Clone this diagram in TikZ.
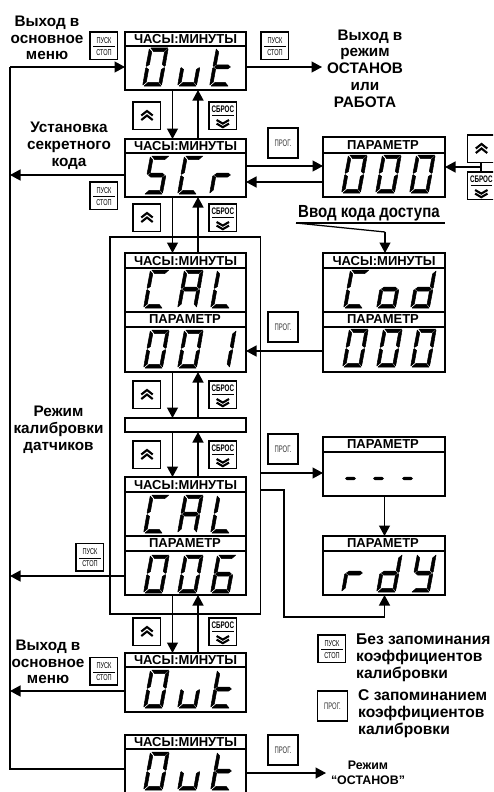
\documentclass[tikz,border=0pt]{standalone}
\usepackage{fontspec}
\usepackage{graphicx}
\setmainfont{Liberation Sans}
\usetikzlibrary{arrows.meta}
% seven-segment pieces (u across, v up; y axis of the picture points down)
\newcommand\digsega{\filldraw (2,-38)--(19,-38)--(15.5,-34.4)--(5.5,-34.4)--cycle;}
\newcommand\digsegd{\filldraw (2,0)--(19,0)--(15.5,-3.6)--(5.5,-3.6)--cycle;}
\newcommand\digsegf{\filldraw (0.6,-37)--(3.6,-34)--(3.6,-21.5)--(1,-19.6)--(0.4,-20.5)--cycle;}
\newcommand\digsege{\filldraw (0.6,-1)--(3.6,-4)--(3.6,-16.5)--(1,-18.4)--(0.4,-17.5)--cycle;}
\newcommand\digsegb{\filldraw (19.4,-37)--(16.4,-34)--(16.4,-21.5)--(19,-19.6)--(19.6,-20.5)--cycle;}
\newcommand\digsegc{\filldraw (19.4,-1)--(16.4,-4)--(16.4,-16.5)--(19,-18.4)--(19.6,-17.5)--cycle;}
\newcommand\digsegg{\filldraw (2,-19)--(4.5,-21)--(15.5,-21)--(18,-19)--(15.5,-17)--(4.5,-17)--cycle;}
\newcommand\dig[3]{\begin{scope}[shift={(#1,#2)},xslant=0.18,line width=.5pt,line join=round]\foreach \s in {#3}{\csname digseg\s\endcsname}\end{scope}}
\newcommand\dash[2]{\fill (#1,#2)--(#1+2,#2-1.7)--(#1+9,#2-1.7)--(#1+11,#2)--(#1+9,#2+1.7)--(#1+2,#2+1.7)--cycle;}
% display frames
\newcommand\dispframe[5]{\node[dispbox,minimum width={(#3)*1pt},minimum height={(#5-#4)*1pt}] (#1) at (#2,#4) {};}
\newcommand\ttlclock[3]{\node[ttlclk] (#1t) at (#2+60.5,#3-7) {ЧАСЫ:МИНУТЫ};\draw[divider] (#2,#3)--(#2+121,#3);}
\newcommand\ttlparam[3]{\node[ttlpar] (#1p) at (#2+60,#3-7.5) {ПАРАМЕТР};\draw[divider] (#2,#3)--(#2+121,#3);}
% buttons
\newcommand\chev[4]{\draw[chevline] (#1-#4,#2+#3*3)--(#1,#2-#3*1.5)--(#1+#4,#2+#3*3);\draw[chevline] (#1-#4,#2+#3*7.5)--(#1,#2+#3*3)--(#1+#4,#2+#3*7.5);}
\newcommand\btnup[3]{\node[btn] (#1) at (#2,#3) {};\chev{#2+14}{#3+10.5}{1}{5.7}}
\newcommand\btnsb[3]{\node[btn] (#1) at (#2,#3) {};
 \node[lblsb] (#1s) at (#2+13.8,#3+7.5) {\scalebox{.66}[1]{СБРОС}};
 \draw[line width=.9pt] (#2+3,#3+13)--(#2+24.5,#3+13);
 \chev{#2+13.8}{#3+24}{-.8}{6.2}}
\newcommand\btnps[3]{\node[btn] (#1) at (#2,#3) {};
 \node[lblps] (#1a) at (#2+14,#3+8.5) {\scalebox{.66}[1]{ПУСК}};
 \draw[line width=.9pt] (#2+3,#3+14.5)--(#2+25,#3+14.5);
 \node[lblps] (#1b) at (#2+14,#3+20.5) {\scalebox{.66}[1]{СТОП}};}
\newcommand\btnpr[3]{\node[btn,minimum height=30pt,minimum width=30pt] (#1) at (#2,#3) {};
 \node[lblpr] (#1a) at (#2+15,#3+15) {\scalebox{.62}[1]{ПРОГ.}};}
\tikzset{
 dispbox/.style={draw,line width=1.9pt,anchor=north west,inner sep=0pt,outer sep=0pt},
 divider/.style={line width=1.5pt},
 ttlclk/.style={inner sep=0pt,font=\bfseries\fontsize{13}{13}\selectfont},
 ttlpar/.style={inner sep=0pt,font=\bfseries\fontsize{13}{13}\selectfont},
 btn/.style={draw,line width=1.6pt,anchor=north west,minimum width=27.5pt,minimum height=27.5pt,inner sep=0pt,outer sep=0pt},
 chevline/.style={line width=2.1pt},
 lblsb/.style={inner sep=0pt,font=\bfseries\fontsize{9.5}{9}\selectfont},
 lblps/.style={inner sep=0pt,font=\fontsize{8.5}{9}\selectfont},
 lblpr/.style={inner sep=0pt,text=black!80,font=\fontsize{9.5}{10}\selectfont},
 wire/.style={line width=1.25pt},
 arr/.style={line width=1.25pt,-{Triangle[length=10.5pt,width=11pt]}},
 big/.style={inner sep=0pt,align=center,font=\bfseries\fontsize{15.3}{16.8}\selectfont},
 legend/.style={inner sep=0pt,align=left,anchor=west,font=\bfseries\fontsize{15.6}{17}\selectfont},
}
\begin{document}
\begin{tikzpicture}[x=1pt,y=-1pt]
\useasboundingbox (0,0) rectangle (493,792);
\clip (0,0) rectangle (493,792);
\fill[white] (0,0) rectangle (493,792);
% helper coordinates
\coordinate (dn) at (172.5,0);
\coordinate (up) at (198,0);
\coordinate (bus) at (10,0);
\coordinate (mid) at (384.5,0);
% frames
\dispframe{outa}{125}{121}{32}{90}
\dispframe{scr}{125}{121}{139}{197}
\dispframe{calA}{125}{121}{253}{372}
\dispframe{blank}{125}{121}{418}{432}
\dispframe{calB}{125}{121}{477}{595}
\dispframe{outb}{125}{121}{653}{712}
\dispframe{outc}{125}{121}{735}{800}
\dispframe{par}{323}{122}{137}{197}
\dispframe{cod}{323}{122}{253}{372}
\dispframe{wait}{323}{122}{437}{496}
\dispframe{rdy}{323}{122}{536}{595}
\node[draw,line width=1.25pt,anchor=north west,minimum width=150.5pt,minimum height=377pt,inner sep=0pt,outer sep=0pt] (group) at (110,237) {};
% titles
\ttlclock{outa}{125}{46}
\ttlclock{scr}{125}{153}
\ttlclock{calA}{125}{268} \ttlparam{calA}{125}{327} \draw[divider] (125,312)--(246,312);
\ttlclock{calB}{125}{492} \ttlparam{calB}{125}{551} \draw[divider] (125,536)--(246,536);
\ttlclock{outb}{125}{667}
\ttlclock{outc}{125}{749}
\ttlparam{par}{323}{153}
\ttlclock{cod}{323.5}{268} \ttlparam{cod}{323}{327} \draw[divider] (323,312)--(445,312);
\ttlparam{wait}{323}{452}
\ttlparam{rdy}{323}{551}
% digits
\dig{142}{86}{a,b,c,d,e,f} \dig{177}{86}{c,d,e} \dig{209}{86}{d,e,f,g}
\dig{143}{194}{a,c,d,f,g} \dig{177}{194}{a,d,e,f} \dig{209}{194}{e,g}
\dig{143}{308}{a,d,e,f} \dig{177}{308}{a,b,c,e,f,g} \dig{210}{308}{d,e,f}
\dig{143}{368}{a,b,c,d,e,f} \dig{177}{368}{a,b,c,d,e,f} \dig{210}{368}{b,c}
\dig{143}{533}{a,d,e,f} \dig{177}{533}{a,b,c,e,f,g} \dig{210}{533}{d,e,f}
\dig{143}{593}{a,b,c,d,e,f} \dig{177}{593}{a,b,c,d,e,f} \dig{210}{593}{a,c,d,e,f,g}
\dig{143}{708}{a,b,c,d,e,f} \dig{177}{708}{c,d,e} \dig{210}{708}{d,e,f,g}
\dig{143}{790}{a,b,c,d,e,f} \dig{177}{790}{c,d,e} \dig{210}{790}{d,e,f,g}
\dig{341}{193}{a,b,c,d,e,f} \dig{375}{193}{a,b,c,d,e,f} \dig{409}{193}{a,b,c,d,e,f}
\dig{343}{308}{a,d,e,f} \dig{376}{308}{c,d,e,g} \dig{410}{308}{b,c,d,e,g}
\dig{342}{367}{a,b,c,d,e,f} \dig{376}{367}{a,b,c,d,e,f} \dig{410}{367}{a,b,c,d,e,f}
\dash{345}{478.5} \dash{373}{478.5} \dash{402}{478.5}
\dig{341}{592}{e,g} \dig{376}{592}{b,c,d,e,g} \dig{410}{592}{b,c,d,f,g}
% buttons
\btnps{psa}{90}{32} \btnps{psb}{261}{32} \btnps{psc}{90}{182} \btnps{psd}{76}{543.5} \btnps{pse}{90}{657.5} \btnps{psf}{318}{635}
\btnup{upa}{133}{102} \btnup{upb}{133}{204} \btnup{upc}{133}{381} \btnup{upd}{133}{441} \btnup{upe}{133}{618}
\btnsb{sba}{209}{102} \btnsb{sbb}{209}{204} \btnsb{sbc}{209}{381} \btnsb{sbd}{209}{441} \btnsb{sbe}{209}{618}
\btnup{upf}{467.5}{135} \btnsb{sbf}{467.5}{172}
\btnpr{pra}{268}{128} \btnpr{prb}{268}{312} \btnpr{prc}{268}{434} \btnpr{prd}{268}{735}
\btnpr{pre}{317.5}{691}
% vertical connectors
\foreach \a/\b in {outa/scr,scr/calA,calA/blank,blank/calB,calB/outb}{
 \draw[arr] (\a.south -| dn)--(\b.north -| dn);
 \draw[arr] (\b.north -| up)--(\a.south -| up);
}
% left bus
\draw[wire] (outc.west |- 0,769)--(bus |- 0,769)--(bus |- 0,67);
\draw[arr] (bus |- 0,67)--(outa.west |- 0,67);
\draw[arr] (scr.west |- 0,175)--(bus |- 0,175);
\draw[arr] (calB.west |- 0,576)--(bus |- 0,576);
\draw[arr] (outb.west |- 0,691)--(bus |- 0,691);
% right side connectors
\coordinate (exita) at (322,67);
\draw[arr] (outa.east |- exita)--(exita);
\draw[arr] (scr.east |- 0,166)--(par.west |- 0,166);
\draw[arr] (par.west |- 0,182)--(scr.east |- 0,182);
\draw[wire] (upf.south -| 481,0)--(sbf.north -| 481,0);
\draw[arr] (481,167)--(par.east |- 0,167);
\draw[arr] (cod.west |- 0,351)--(calA.east |- 0,351);
\draw[arr] (group.east |- 0,473)--(wait.west |- 0,473);
\draw[arr] (wait.south -| mid)--(rdy.north -| mid);
\draw[arr] (group.east |- 0,490)--(284,490)--(284,617)--(mid |- 0,617)--(rdy.south -| mid);
\coordinate (exitb) at (326,773);
\draw[arr] (outc.east |- exitb)--(exitb);
% caption leader
\node[inner sep=0pt,font=\bfseries\fontsize{17.5}{18}\selectfont] (cap) at (369,213) {\scalebox{.86}[1]{Ввод кода доступа}};
\draw[wire] (296,223)--(445,223);
\coordinate (capk) at (385,232);
\draw[wire] (296,223)--(capk);
\draw[arr] (capk)--(cod.north -| capk);
% texts
\node[big] (lblA) at (47,38) {Выход в\\основное\\меню};
\node[big] (lblB) at (365,68.5) {\hspace{10pt}Выход в\\режим\\ОСТАНОВ\\или\\РАБОТА};
\node[big] (lblC) at (69,146) {Установка\\секретного\\кода};
\node[big] (lblD) at (58.5,430) {Режим\\калибровки\\датчиков};
\node[big] (lblE) at (48,662) {Выход в\\основное\\меню};
\node[legend] (lgA) at (356,658) {Без запоминания\\коэффициентов\\калибровки};
\node[legend] (lgB) at (358,714) {С запоминанием\\коэффициентов\\калибровки};
\node[inner sep=0pt,align=center,font=\bfseries\fontsize{12.4}{14.5}\selectfont] (lblF) at (368,773) {Режим\\“ОСТАНОВ”};
\end{tikzpicture}
\end{document}
